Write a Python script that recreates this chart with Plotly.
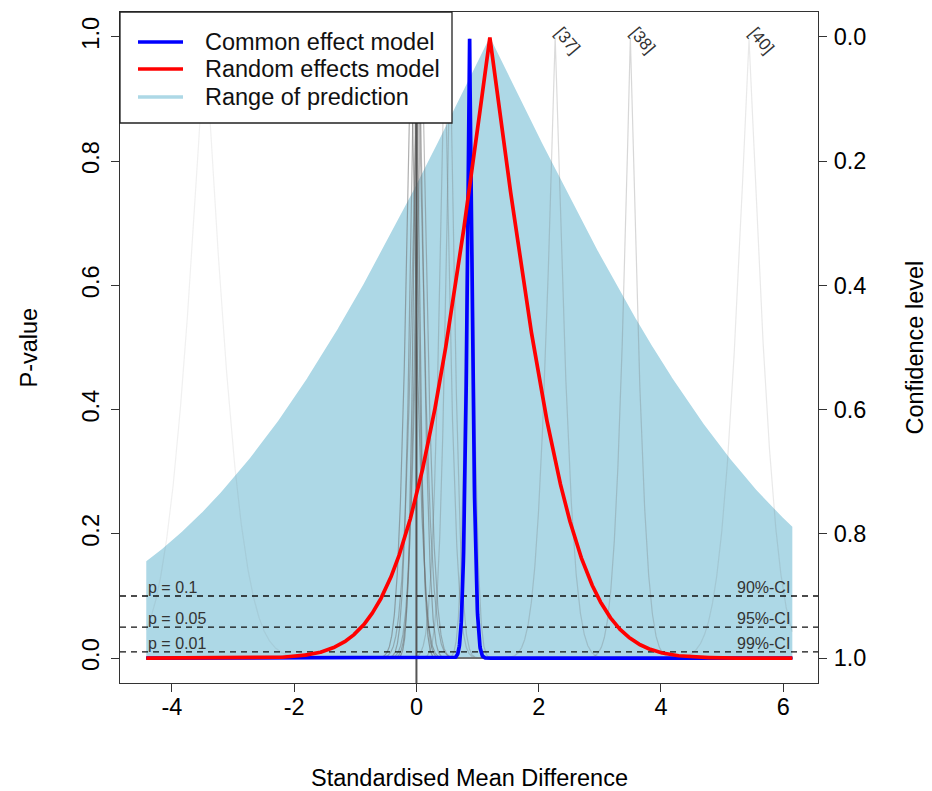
import math
import numpy as np
import plotly.graph_objects as go

# ---------------- data ----------------
# individual studies: estimate (SMD), standard error, relative weight, label
study_te = [-3.46, -0.09, -0.04, 0.00, 0.02, 0.05, 0.09, 0.46, 0.55, 0.87, 2.27, 3.50, 5.44]
study_se = [0.48, 0.15, 0.12, 0.09, 0.17, 0.12, 0.15, 0.15, 0.13, 0.10, 0.23, 0.20, 0.35]
study_weight = [0.10, 0.55, 0.50, 0.60, 0.45, 0.50, 0.45, 0.30, 0.30, 0.30, 0.25, 0.28, 0.15]
study_label = ["", "", "", "", "", "", "", "", "", "", "[37]", "[38]", "[40]"]

common_te, common_se = 0.87, 0.072
random_te, random_se = 1.20, 1.07
pred_sd = 3.96
x_lo, x_hi = -4.42, 6.15

p_levels = [0.1, 0.05, 0.01]
p_labels = ["p = 0.1", "p = 0.05", "p = 0.01"]
ci_labels = ["90%-CI", "95%-CI", "99%-CI"]

legend_names = ["Common effect model", "Random effects model", "Range of prediction"]
legend_colors = ["#0000FF", "#FF0000", "#ADD8E6"]

x_ticks = [-4, -2, 0, 2, 4, 6]
x_ticklabels = ["-4", "-2", "0", "2", "4", "6"]
y_ticks = [0.0, 0.2, 0.4, 0.6, 0.8, 1.0]
y_ticklabels = ["0.0", "0.2", "0.4", "0.6", "0.8", "1.0"]
conf_ticklabels = ["1.0", "0.8", "0.6", "0.4", "0.2", "0.0"]

# ---------------- helpers ----------------
grid = np.linspace(x_lo, x_hi, 3000)


def pfun(te, se):
    z = np.abs(grid - te) / (se * math.sqrt(2.0))
    return np.array([math.erfc(v) for v in z])


FONT = "Liberation Sans, Arial, sans-serif"
FS = 23.5
fig = go.Figure()

# prediction range
fig.add_trace(go.Scatter(x=grid, y=pfun(random_te, pred_sd), mode="lines",
                         line=dict(width=0, color="#ADD8E6"), fill="tozeroy",
                         fillcolor="#ADD8E6", showlegend=False, hoverinfo="skip"))

# study curves
for te, se, w in zip(study_te, study_se, study_weight):
    fig.add_trace(go.Scatter(x=grid, y=pfun(te, se), mode="lines",
                             line=dict(width=1.2, color=f"rgba(110,110,110,{w})"),
                             showlegend=False, hoverinfo="skip"))

# reference line at 0
fig.add_trace(go.Scatter(x=[0, 0], y=[-0.05, 1.05], mode="lines",
                         line=dict(width=2, color="#555555"),
                         showlegend=False, hoverinfo="skip"))

xr = [-4.85, 6.57]
yr = [-0.04, 1.04]

# dashed significance lines
for p in p_levels:
    fig.add_trace(go.Scatter(x=xr, y=[p, p], mode="lines",
                             line=dict(width=1.3, color="#111", dash="6px,5px"),
                             showlegend=False, hoverinfo="skip"))

# pooled curves
fig.add_trace(go.Scatter(x=grid, y=pfun(common_te, common_se), mode="lines",
                         line=dict(width=3.7, color="#0000FF"), name=legend_names[0],
                         showlegend=False))
fig.add_trace(go.Scatter(x=grid, y=pfun(random_te, random_se), mode="lines",
                         line=dict(width=3.7, color="#FF0000"), name=legend_names[1],
                         showlegend=False))

# dummy for right axis
fig.add_trace(go.Scatter(x=[0], y=[0.5], yaxis="y2", mode="markers",
                         marker=dict(opacity=0), showlegend=False, hoverinfo="skip"))

# plot area in page pixels: x 120..818, y 12..683
PX0, PX1, PY0, PY1 = 120, 818, 12, 683


def px(xp):
    return (xp - PX0) / (PX1 - PX0)


def py(yp):
    return (PY1 - yp) / (PY1 - PY0)


annotations = []
for p, pl, cl in zip(p_levels, p_labels, ci_labels):
    annotations.append(dict(x=x_lo, y=p, text=pl, showarrow=False, xanchor="left",
                            yanchor="bottom", yshift=-2,
                            font=dict(size=16, color="#333", family=FONT)))
    annotations.append(dict(x=x_hi, y=p, text=cl, showarrow=False, xanchor="right",
                            yanchor="bottom", yshift=-2,
                            font=dict(size=16, color="#333", family=FONT)))

for te, lab in zip(study_te, study_label):
    if lab:
        annotations.append(dict(x=te, y=1.0, text=lab, showarrow=False, textangle=50,
                                xshift=12, yshift=-4,
                                font=dict(size=17, color="#333", family=FONT)))

# legend (drawn as a boxed key in the top-left corner)
shapes = [dict(type="rect", xref="paper", yref="paper", x0=px(120), x1=px(452),
               y0=py(123), y1=py(12), fillcolor="white", line=dict(color="#222", width=1.3),
               layer="above")]
legend_rows = [42, 69, 97]
for name, col, ry in zip(legend_names, legend_colors, legend_rows):
    shapes.append(dict(type="line", xref="paper", yref="paper", x0=px(138), x1=px(183),
                       y0=py(ry), y1=py(ry), line=dict(color=col, width=3.7), layer="above"))
    annotations.append(dict(xref="paper", yref="paper", x=px(203), y=py(ry), text=name,
                            xanchor="left", yanchor="middle", showarrow=False,
                            font=dict(size=FS, color="#111", family=FONT)))

# axis titles
annotations.append(dict(xref="paper", yref="paper", x=0.5, y=py(778),
                        xanchor="center", yanchor="middle", text="Standardised Mean Difference",
                        showarrow=False, font=dict(size=FS, color="black", family=FONT)))
annotations.append(dict(xref="paper", yref="paper", x=px(28), y=0.5, text="P-value",
                        xanchor="center", yanchor="middle",
                        textangle=-90, showarrow=False, font=dict(size=FS, color="black", family=FONT)))
annotations.append(dict(xref="paper", yref="paper", x=px(914), y=0.5, text="Confidence level",
                        xanchor="center", yanchor="middle",
                        textangle=-90, showarrow=False, font=dict(size=FS, color="black", family=FONT)))

# page body has an 8 px margin, so the figure is offset accordingly
fig.update_layout(
    width=924, height=783,
    margin=dict(l=112, r=114, t=4, b=108),
    paper_bgcolor="white", plot_bgcolor="white",
    font=dict(family=FONT, size=FS, color="black"),
    showlegend=False,
    xaxis=dict(range=xr, tickvals=x_ticks, ticktext=x_ticklabels, ticks="outside", ticklen=8,
               tickcolor="#333", showgrid=False, zeroline=False, showline=True, linecolor="#333",
               linewidth=1.3, mirror=True, tickfont=dict(size=FS), ticklabelstandoff=-5),
    yaxis=dict(range=yr, tickvals=y_ticks, ticktext=y_ticklabels, ticks="outside", ticklen=8,
               tickcolor="#333", tickangle=-90, showgrid=False, zeroline=False, showline=True,
               linecolor="#333", linewidth=1.3, mirror=True, tickfont=dict(size=FS),
               ticklabelstandoff=2),
    yaxis2=dict(overlaying="y", side="right", range=[1.04, -0.04], tickvals=[1 - v for v in y_ticks],
                ticktext=conf_ticklabels, ticks="outside", ticklen=8, tickcolor="#333",
                showgrid=False, zeroline=False, showline=False, tickfont=dict(size=FS),
                ticklabelstandoff=2),
    shapes=shapes,
    annotations=annotations,
)

fig.write_html("out.html")
